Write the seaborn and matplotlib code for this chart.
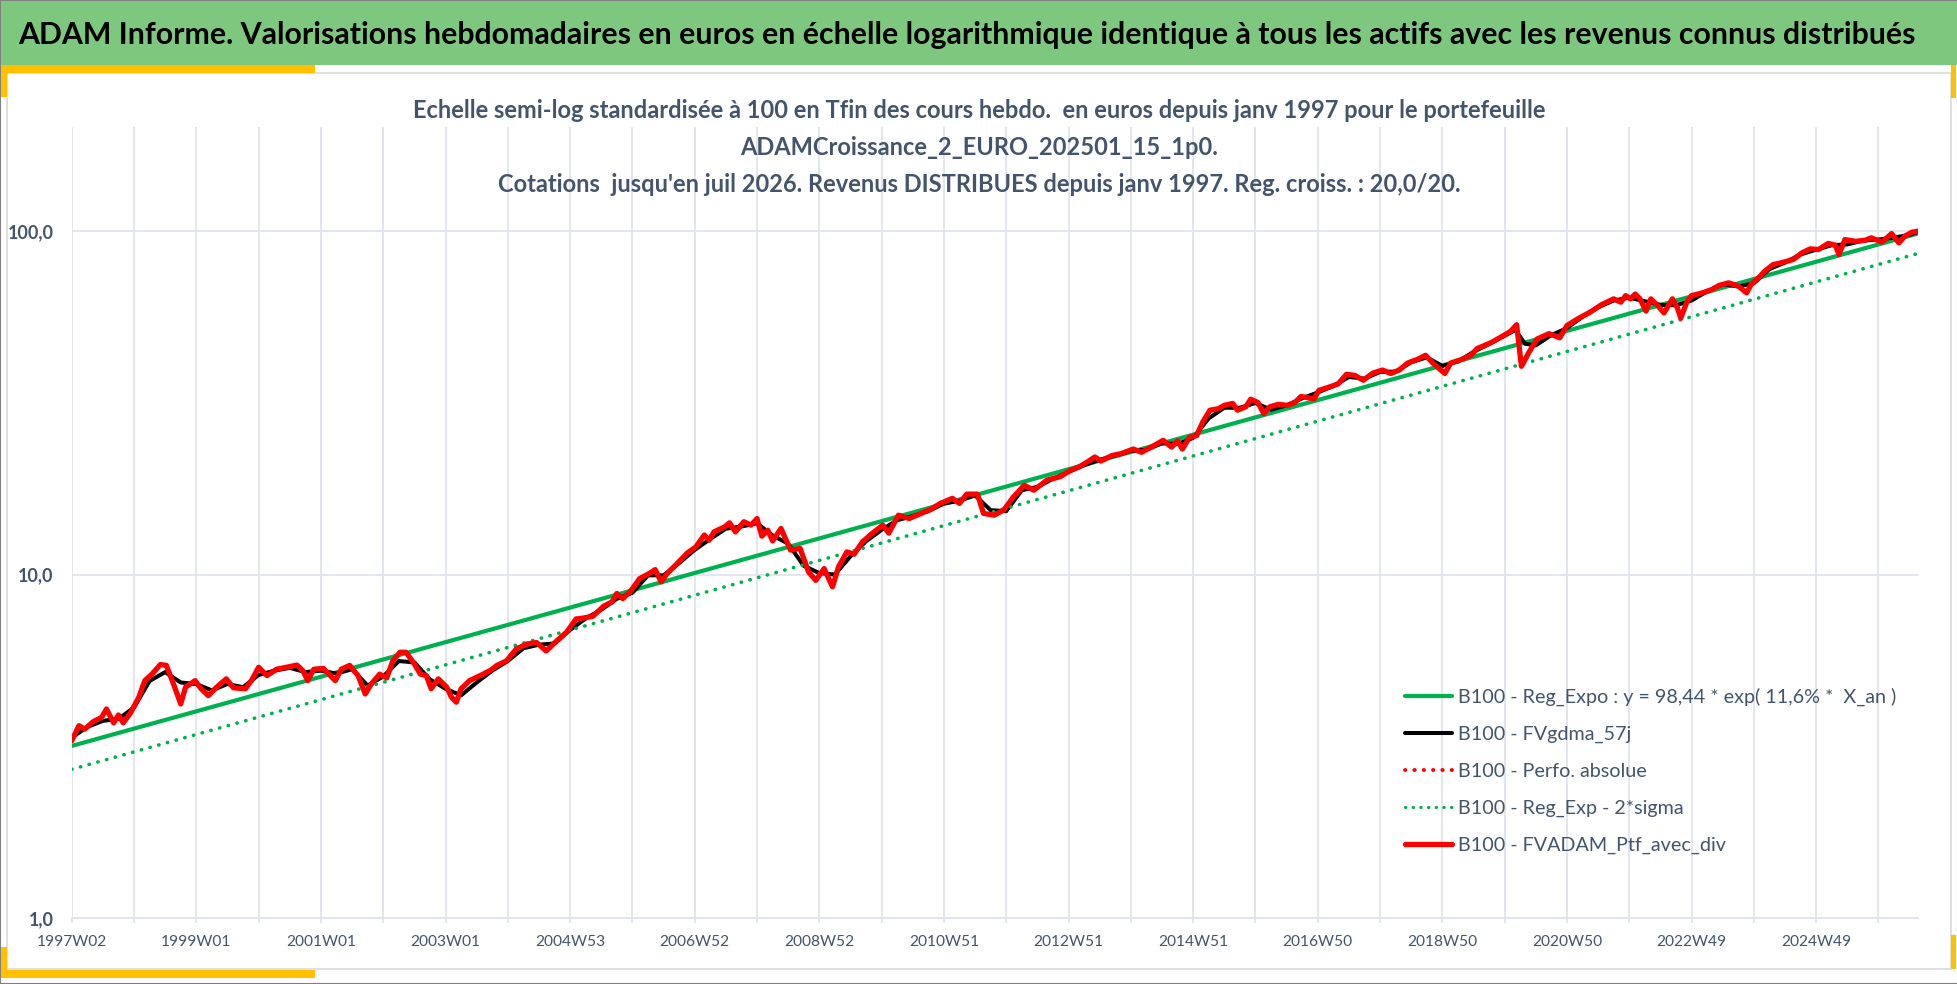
import seaborn as sns
import matplotlib
matplotlib.use("Agg")
import matplotlib.pyplot as plt
from matplotlib import font_manager
from matplotlib.lines import Line2D
from matplotlib.patches import Rectangle
from matplotlib.ticker import NullLocator, FixedLocator

# semaines comptées depuis 1997W02 (base 100 en fin)
ptf_semaines = [0, 6, 11, 18, 25, 29, 35, 39, 43, 49, 56, 61, 67, 74, 79, 85, 91, 95, 103, 108,
                114, 121, 129, 135, 145, 150, 156, 163, 171, 179, 188, 193, 197, 202, 210, 220, 225, 232, 239, 245,
                250, 257, 263, 268, 274, 279, 285, 291, 296, 300, 306, 313, 317, 321, 325, 332, 341, 349, 355, 363,
                371, 380, 388, 396, 405, 413, 421,
                425, 435, 444, 451, 455, 460, 467, 474, 482, 487, 492, 497, 504, 514, 521, 528, 532, 536, 545, 549,
                554, 561, 567, 572, 576, 581, 585, 592, 600, 608, 615, 621, 628, 635, 640, 647, 653, 660, 668, 677,
                682, 690, 699, 709, 717, 725, 735, 741, 747, 756, 761, 770, 778, 786, 795, 803, 814, 825, 834, 841,
                847, 854, 859, 868, 876, 886, 893, 901, 911, 918, 923, 927, 933, 939, 944, 950, 957, 962, 969, 973,
                980, 984, 990, 995, 1000, 1007, 1015, 1021, 1026, 1037, 1041, 1048, 1057, 1064, 1071, 1078, 1086,
                1094, 1101, 1108, 1115, 1123, 1130, 1136, 1146, 1151, 1160, 1168, 1173,
                1185, 1194, 1201, 1206, 1210, 1216, 1223, 1233, 1242, 1248, 1258, 1267, 1277, 1287, 1293, 1297,
                1301, 1305, 1309, 1314, 1318, 1323, 1329, 1336, 1340, 1343, 1348, 1352, 1361, 1369, 1375, 1383,
                1391, 1398, 1402, 1408, 1413, 1420, 1427, 1437, 1444, 1451, 1458, 1466, 1472, 1475, 1480, 1489,
                1497, 1502, 1511, 1519, 1525, 1530, 1536, 1541]
ptf_valeurs = [3.28, 3.63, 3.55, 3.73, 3.84, 4.06, 3.70, 3.90, 3.70, 3.95, 4.39, 4.91, 5.13, 5.47, 5.44, 4.80,
               4.20, 4.70, 4.91, 4.65, 4.44, 4.70, 4.97, 4.68, 4.65, 4.91, 5.37, 5.08, 5.30, 5.37, 5.45, 5.25,
               4.91, 5.30, 5.33, 4.91, 5.30, 5.44, 5.08, 4.49, 4.80, 5.13, 5.00, 5.61, 5.94, 5.94, 5.56, 5.13,
               5.08, 4.65, 4.97, 4.70, 4.39, 4.25, 4.65, 4.91, 5.08, 5.25, 5.44, 5.61, 6.07, 6.28, 6.34, 5.99,
               6.42, 6.79, 7.43,
               7.45, 7.56, 8.09, 8.33, 8.81, 8.51, 9.00, 9.73, 10.07, 10.34, 9.52, 10.07, 10.65, 11.57, 12.04,
               13.04, 12.59, 13.31, 13.77, 14.15, 13.31, 14.25, 13.93, 14.56, 12.94, 13.46, 12.53, 13.62, 11.78,
               11.91, 10.18, 9.62, 10.41, 9.21, 10.53, 11.64, 11.46, 12.45, 13.17, 13.93, 13.20, 14.89, 14.56,
               15.07, 15.49, 16.11, 16.67, 16.11, 17.15, 17.15, 15.07, 14.89, 15.42, 16.83, 18.20, 17.60, 18.84,
               19.27, 20.15, 20.60,
               21.2, 22.0, 21.4, 22.2, 22.5, 23.2, 22.7, 23.5, 24.6, 23.5, 24.5, 23.2, 25.1, 25.4, 27.8, 30.1,
               30.4, 31.1, 31.5, 30.1, 30.8, 32.4, 31.7, 29.4, 30.8, 31.3, 31.1, 31.7, 33.0, 32.5, 34.4, 35.0,
               35.9, 38.3, 38.0, 36.8, 38.6, 39.4, 38.5, 39.4, 41.3, 42.3, 43.5, 41.3, 38.5, 41.3, 42.3, 43.5, 45.5,
               47.4, 49.4, 51.1, 53.4, 40.4, 44.2, 48.5, 50.3, 48.9, 53.1, 55.8, 58.0, 61.1, 63.5, 62.1, 64.9,
               63.5, 65.6, 63.5, 58.5, 63.5, 61.1, 57.8, 63.5, 60.0, 55.8, 62.1, 64.9, 66.1, 67.6, 69.5, 70.7,
               69.2, 66.1, 70.3, 73.1, 76.4, 79.9, 80.9, 82.7, 86.4, 88.8, 88.4, 92.1, 91.0, 85.5, 94.5, 93.4,
               94.1, 95.6, 92.9, 98.4, 92.4, 96.7, 99.3, 100.0]

# moyenne mobile 57j (courbe noire), lue plus grossièrement
gdma_semaines = [0, 13, 26, 39, 52, 65, 78, 91, 104, 117, 130, 143, 156, 169, 182, 195, 208, 221, 234, 247,
                 260, 273, 286, 299, 312, 325, 338, 351, 364, 377, 390, 403, 416, 429, 442, 455, 468, 481, 494,
                 507, 520, 533, 546, 559, 572, 585, 598, 611, 624, 637, 650, 663, 676, 689, 702, 715, 728, 741,
                 754, 767, 780, 793, 806, 819, 832, 845, 858, 871, 884, 897, 910, 923, 936, 949, 962, 975, 988,
                 1001, 1014, 1027, 1040, 1053, 1066, 1079, 1092, 1105, 1118, 1131, 1144, 1157, 1170, 1183, 1196,
                 1205, 1213, 1222, 1235, 1248, 1261, 1274, 1287, 1300, 1313, 1326, 1339, 1352, 1365, 1378, 1391,
                 1404, 1417, 1430, 1443, 1456, 1469, 1482, 1495, 1508, 1521, 1534, 1541]
gdma_valeurs = [3.35, 3.6, 3.75, 3.8, 4.1, 4.9, 5.2, 4.85, 4.8, 4.6, 4.8, 4.7, 5.1, 5.25, 5.35, 5.2, 5.25,
                5.15, 5.3, 4.75, 5.05, 5.6, 5.55, 4.95, 4.65, 4.45, 4.85, 5.25, 5.6, 6.1, 6.25, 6.3, 6.9, 7.45,
                7.9, 8.5, 8.85, 9.95, 9.95, 10.8, 11.8, 12.7, 13.6, 13.8, 14.1, 13.0, 12.3, 10.6, 10.1, 10.0,
                11.3, 12.5, 13.5, 14.4, 14.8, 15.3, 16.1, 16.4, 17.0, 15.4, 15.3, 17.6, 18.0, 19.0, 19.9, 20.8,
                21.6, 22.2, 22.9, 23.1, 24.1, 24.0, 25.0, 28.5, 30.6, 30.6, 31.6, 30.2, 31.1, 32.6, 33.9, 35.4,
                37.6, 37.2, 38.9, 39.0, 41.5, 42.9, 40.5, 41.7, 44.5, 46.9, 49.6, 51.5, 47.0, 46.5, 49.8, 52.2,
                56.3, 60.0, 62.8, 64.0, 62.5, 61.0, 60.8, 62.8, 66.8, 70.0, 69.0, 70.5, 77.5, 81.0, 85.5, 88.3,
                91.0, 91.5, 93.8, 94.5, 95.8, 97.5, 99.5]

# régression exponentielle et bande -2 sigma (droites en échelle log)
reg_semaines = [0, 1541]
reg_expo = [3.17, 98.44]
reg_2sigma = [2.71, 86.1]

etiquettes_x = ["1997W02", "1999W01", "2001W01", "2003W01", "2004W53", "2006W52", "2008W52", "2010W51",
                "2012W51", "2014W51", "2016W50", "2018W50", "2020W50", "2022W49", "2024W49"]
etiquettes_y = ["1,0", "10,0", "100,0"]
valeurs_y = [1, 10, 100]

noms = ["B100 - Reg_Expo : y = 98,44 * exp( 11,6% *  X_an )",
        "B100 - FVgdma_57j",
        "B100 - Perfo. absolue",
        "B100 - Reg_Exp - 2*sigma",
        "B100 - FVADAM_Ptf_avec_div"]

titre = ("ADAM Informe. Valorisations hebdomadaires en euros en échelle logarithmique identique "
         "à tous les actifs avec les revenus connus distribués")
sous_titre = ["Echelle semi-log standardisée à 100 en Tfin des cours hebdo.  en euros depuis janv 1997 pour le portefeuille",
              "ADAMCroissance_2_EURO_202501_15_1p0.",
              "Cotations  jusqu'en juil 2026. Revenus DISTRIBUES depuis janv 1997. Reg. croiss. : 20,0/20."]

VERT = "#00B050"
ROUGE = "#FF0000"
GRILLE = "#E1E4EB"
TEXTE = "#44546A"

installees = {f.name for f in font_manager.fontManager.ttflist}
POLICE = "Liberation Sans Narrow" if "Liberation Sans Narrow" in installees else "Lato"

sns.set_theme(style="white")
plt.rcParams["font.family"] = [POLICE, "DejaVu Sans"]

W, H = 1958, 984
fig = plt.figure(figsize=(W / 100, H / 100), dpi=100)
rend = fig.canvas.get_renderer()


def rect(x0, y0, x1, y1, face, edge="none", lw=0, z=0):
    fig.add_artist(Rectangle((x0 / W, 1 - y1 / H), (x1 - x0) / W, (y1 - y0) / H,
                             transform=fig.transFigure, facecolor=face, edgecolor=edge,
                             linewidth=lw, zorder=z))


def taille(texte, cible, poids="normal"):
    t = fig.text(0, 0, texte, fontsize=20, fontweight=poids)
    w = t.get_window_extent(renderer=rend).width
    t.remove()
    return 20 * cible / w


# cadre, bandeau vert et accents jaunes
rect(0, 0, W, H, "white", "#808080", 1.5, z=-5)
rect(1, 1, W - 1, 65, "#7EC77F", z=-4)
rect(7, 73, 1951, 969, "white", "#D9D9D9", 1.2, z=-4)
rect(1, 65, 315, 73, "#FFC000", z=-3)
rect(1, 65, 7, 97, "#FFC000", z=-3)
rect(1, 970, 315, 978, "#FFC000", z=-3)
rect(1, 947, 7, 978, "#FFC000", z=-3)
rect(1951, 65, 1956, 98, "#FFC000", z=-3)
rect(1951, 935, 1956, 969, "#FFC000", z=-3)

fig.text(18 / W, 1 - 35 / H, titre, fontsize=taille(titre, 1893, "bold"), fontweight="bold",
         color="black", va="center", ha="left")
fs_sous = taille(sous_titre[0], 1134, "bold")
for i, ligne in enumerate(sous_titre):
    fig.text(0.5, 1 - (111 + 36.5 * i) / H, ligne, fontsize=fs_sous, fontweight="bold",
             color=TEXTE, va="center", ha="center")

ax = fig.add_axes([71.7 / W, 1 - 918 / H, (1918 - 71.7) / W, (918 - 127) / H])
ax.patch.set_alpha(0)

sns.lineplot(x=reg_semaines, y=reg_expo, ax=ax, color=VERT, lw=3.0, zorder=2)
sns.lineplot(x=gdma_semaines, y=gdma_valeurs, ax=ax, color="black", lw=2.9, zorder=3)
sns.lineplot(x=ptf_semaines, y=ptf_valeurs, ax=ax, color=ROUGE, lw=2.6, linestyle=(0, (0.1, 2.2)),
             dash_capstyle="round", zorder=4)
sns.lineplot(x=reg_semaines, y=reg_2sigma, ax=ax, color=VERT, lw=2.6, linestyle=(0, (0.1, 2.4)),
             dash_capstyle="round", zorder=4)
sns.lineplot(x=ptf_semaines, y=ptf_valeurs, ax=ax, color=ROUGE, lw=3.8, zorder=5)

ax.set_yscale("log")
ax.set_ylim(1, 201)
ax.set_xlim(0, 1541)
ax.set_xlabel("")
ax.set_ylabel("")

# grille annuelle (52 semaines), étiquettes toutes les 104 semaines
grille_x = list(range(0, 1542, 52))
ax.xaxis.set_major_locator(FixedLocator(grille_x))
ax.set_xticklabels([etiquettes_x[k // 2] if k % 2 == 0 else "" for k in range(len(grille_x))])
ax.yaxis.set_major_locator(FixedLocator(valeurs_y))
ax.yaxis.set_minor_locator(NullLocator())
ax.set_yticklabels(etiquettes_y)
ax.grid(True, axis="both", color=GRILLE, lw=1.3)
ax.set_axisbelow(True)
for cote in ["left", "right", "top"]:
    ax.spines[cote].set_visible(False)
ax.spines["bottom"].set_color(GRILLE)
ax.spines["bottom"].set_linewidth(1.3)

fs_x = taille("1997W02", 70)
ax.tick_params(axis="x", length=3.6, width=1.3, color=GRILLE, pad=8.5, labelsize=fs_x,
               labelcolor=TEXTE, bottom=True)
ax.tick_params(axis="y", length=0, pad=13, labelsize=taille("100,0", 46, "bold"), labelcolor=TEXTE, left=True)
for lab in ax.get_yticklabels():
    lab.set_fontweight("bold")

fs_leg = taille(noms[0], 440)
poignees = [Line2D([], [], color=VERT, lw=3.0),
            Line2D([], [], color="black", lw=2.9),
            Line2D([], [], color=ROUGE, lw=2.8, linestyle=(0, (0.1, 2.3)), dash_capstyle="round"),
            Line2D([], [], color=VERT, lw=2.3, linestyle=(0, (0.1, 2.3)), dash_capstyle="round"),
            Line2D([], [], color=ROUGE, lw=3.8)]
fig.legend(poignees, noms, loc="upper left", bbox_to_anchor=(1405 / W, 1 - 688 / H), frameon=False,
           borderpad=0, borderaxespad=0, handlelength=33.8 / fs_leg, handletextpad=4.3 / fs_leg,
           labelspacing=1.0, fontsize=fs_leg, labelcolor=TEXTE)

fig.savefig("out.png", dpi=100)
